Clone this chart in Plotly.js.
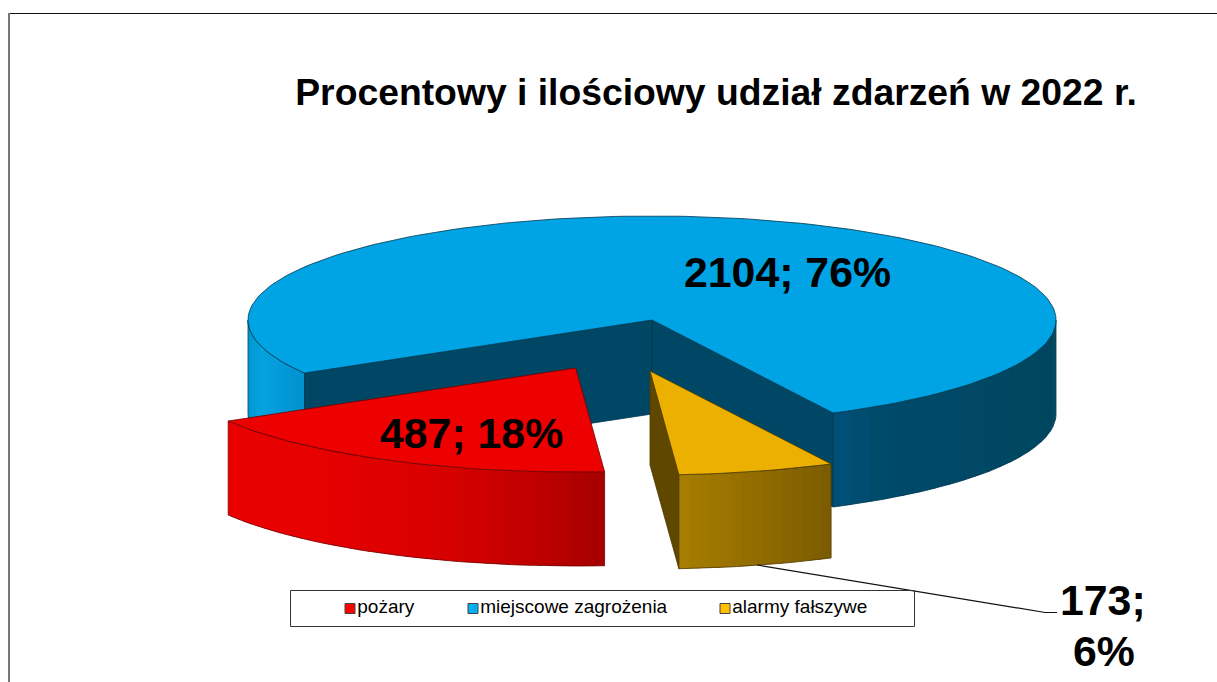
<!DOCTYPE html>
<html>
<head>
<meta charset="utf-8">
<script src="https://cdn.plot.ly/plotly-3.0.1.min.js"></script>
<style>html,body{margin:0;padding:0;background:#fff;overflow:hidden}#chart{width:1217px;height:682px}</style>
</head>
<body>
<div id="chart"></div>
<script>
// ---- data ----
const categories = ['pożary', 'miejscowe zagrożenia', 'alarmy fałszywe'];
const values = [487, 2104, 173];
const chartTitle = 'Procentowy i ilościowy udział zdarzeń w 2022 r.';
const legendColors = ['#FF0000', '#00B0F0', '#FFC000'];
const topColors = ['#EC0000', '#00A3E3', '#ECB000'];
const edgeColors = ['#6E0000', '#00374F', '#4E3A00'];

// ---- pie projection ----
const RX = 404, RY = 104, DEPTH = 94, START = 175.9;
const centres = [[575.7, 368], [652, 320], [650, 371]];
const total = values.reduce((a, b) => a + b, 0);
const spans = values.map(v => v / total * 360);
const starts = [START, START + spans[0], START + spans[0] + spans[1]];
const pct = values.map(v => Math.round(v / total * 100));

function pt(c, deg, down) {
  const r = deg * Math.PI / 180;
  return [c[0] + RX * Math.sin(r), c[1] - RY * Math.cos(r) + (down ? DEPTH : 0)];
}
function arc(c, a0, a1, down) {
  const n = Math.max(2, Math.ceil(Math.abs(a1 - a0) / 1.5)), out = [];
  for (let i = 0; i <= n; i++) out.push(pt(c, a0 + (a1 - a0) * i / n, down));
  return out;
}
function hex(s) { return [1, 3, 5].map(i => parseInt(s.substr(i, 2), 16)); }
function ramp(stops, x) {
  if (x <= stops[0][0]) return stops[0][1];
  for (let i = 1; i < stops.length; i++) {
    if (x <= stops[i][0]) {
      const f = (x - stops[i - 1][0]) / (stops[i][0] - stops[i - 1][0]);
      const p = hex(stops[i - 1][1]), q = hex(stops[i][1]);
      return 'rgb(' + p.map((v, k) => Math.round(v + (q[k] - v) * f)).join(',') + ')';
    }
  }
  return stops[stops.length - 1][1];
}

const traces = [];
function poly(points, fill, line, name) {
  traces.push({
    type: 'scatter', mode: 'lines', name: name || '', showlegend: false, hoverinfo: 'skip',
    x: points.map(p => p[0]), y: points.map(p => p[1]),
    fill: 'toself', fillcolor: fill,
    line: line ? { color: line, width: 0.8 } : { width: 0 }
  });
}
function outline(points, color, width) {
  traces.push({
    type: 'scatter', mode: 'lines', showlegend: false, hoverinfo: 'skip',
    x: points.map(p => p[0]), y: points.map(p => p[1]),
    line: { color: color, width: width || 0.8 }
  });
}
function side(c, a0, a1, stops, edge, stepDeg) {
  const n = Math.max(1, Math.round(Math.abs(a1 - a0) / stepDeg));
  for (let i = 0; i < n; i++) {
    const s = a0 + (a1 - a0) * i / n, e = a0 + (a1 - a0) * (i + 1.25) / n;
    const e2 = (a1 > a0) ? Math.min(e, a1) : Math.max(e, a1);
    const top = arc(c, s, e2, false), bot = arc(c, s, e2, true).reverse();
    const mx = pt(c, (s + e2) / 2, false)[0];
    poly(top.concat(bot), ramp(stops, mx), null);
  }
  const ring = arc(c, a0, a1, false).concat(arc(c, a0, a1, true).reverse());
  ring.push(ring[0]);
  outline(ring, edge);
}
function wall(a, b, fill, edge) {
  poly([a, b, [b[0], b[1] + DEPTH], [a[0], a[1] + DEPTH], a], fill, edge);
}
function wedge(c, a0, a1, fill, edge, name) {
  poly([c].concat(arc(c, a0, a1, false), [c]), fill, edge, name);
}

// miejscowe zagrożenia (rear slice)
const b0 = starts[1], b1 = starts[1] + spans[1], bc = centres[1];
side(bc, b0, 270, [[248, '#0098D2'], [262, '#06A2E0'], [304, '#0090CE']], edgeColors[1], 2);
side(bc, 90, b1 - 360, [[832, '#00517A'], [880, '#004A6A'], [1056, '#00465F']], edgeColors[1], 3);
wall(bc, pt(bc, b0, false), '#004766', edgeColors[1]);
wall(bc, pt(bc, b1, false), '#004766', edgeColors[1]);
wedge(bc, b0, b1, topColors[1], edgeColors[1], categories[1]);

// alarmy fałszywe
const y0 = starts[2], y1 = starts[2] + spans[2], yc = centres[2];
wall(yc, pt(yc, 175.9, false), '#5F4700', edgeColors[2]);
side(yc, y0 - 360, y1 - 360, [[678, '#A87E00'], [831, '#7A5B00']], edgeColors[2], 1.5);
wedge(yc, y0 - 360, y1 - 360, topColors[2], edgeColors[2], categories[2]);

// pożary
const r0 = starts[0], r1 = starts[0] + spans[0], rc = centres[0];
side(rc, r0, r1, [[228, '#EA0000'], [320, '#E60000'], [450, '#D60000'], [540, '#BE0000'], [604, '#A40000']], edgeColors[0], 1.5);
wedge(rc, r0, r1, topColors[0], edgeColors[0], categories[0]);

// leader line
traces.push({
  type: 'scatter', mode: 'lines', showlegend: false, hoverinfo: 'skip',
  x: [757, 1045, 1057], y: [565, 612.5, 612.5],
  line: { color: '#111', width: 1.2 }
});

// legend entries
const legendX = [350, 473, 725];
categories.forEach((name, i) => {
  traces.push({
    type: 'scatter', mode: 'markers+text', name: name, showlegend: false, hoverinfo: 'name',
    x: [legendX[i]], y: [608.5], text: [name], textposition: 'middle right',
    textfont: { family: 'Liberation Sans, Arial, sans-serif', size: 19, color: '#000' },
    marker: { symbol: 'square', size: 10, color: legendColors[i], line: { color: '#444', width: 1 } }
  });
});

const labelFont = { family: 'Liberation Sans, Arial, sans-serif', size: 42.8, color: '#000' };
function lab(text, x, y) {
  return { text: '<b>' + text + '</b>', x: x, y: y, xref: 'x', yref: 'y', showarrow: false,
           xanchor: 'center', yanchor: 'middle', font: labelFont };
}

const layout = {
  width: 1217, height: 682,
  margin: { l: 0, r: 0, t: 0, b: 0 },
  paper_bgcolor: '#fff', plot_bgcolor: '#fff', showlegend: false,
  title: {
    text: '<b>' + chartTitle + '</b>', x: 716 / 1217, xanchor: 'center',
    y: 1 - 92 / 682, yanchor: 'middle',
    font: { family: 'Liberation Sans, Arial, sans-serif', size: 37.3, color: '#000' }
  },
  xaxis: { range: [0, 1217], visible: false, fixedrange: true },
  yaxis: { range: [682, 0], visible: false, fixedrange: true },
  annotations: [
    lab(values[1] + '; ' + pct[1] + '%', 787, 272),
    lab(values[0] + '; ' + pct[0] + '%', 471, 433),
    lab(values[2] + ';', 1103, 600),
    lab(pct[2] + '%', 1104, 651)
  ],
  shapes: [
    { type: 'line', xref: 'x', yref: 'y', x0: 9, x1: 1217, y0: 13.5, y1: 13.5, line: { color: '#111', width: 1 } },
    { type: 'line', xref: 'x', yref: 'y', x0: 9, x1: 9, y0: 13, y1: 682, line: { color: '#777', width: 2 } },
    { type: 'rect', xref: 'x', yref: 'y', x0: 290.5, x1: 914.5, y0: 590.5, y1: 626.5, line: { color: '#333', width: 1 } }
  ]
};
Plotly.newPlot('chart', traces, layout, { displayModeBar: false, staticPlot: true });
</script>
</body>
</html>
